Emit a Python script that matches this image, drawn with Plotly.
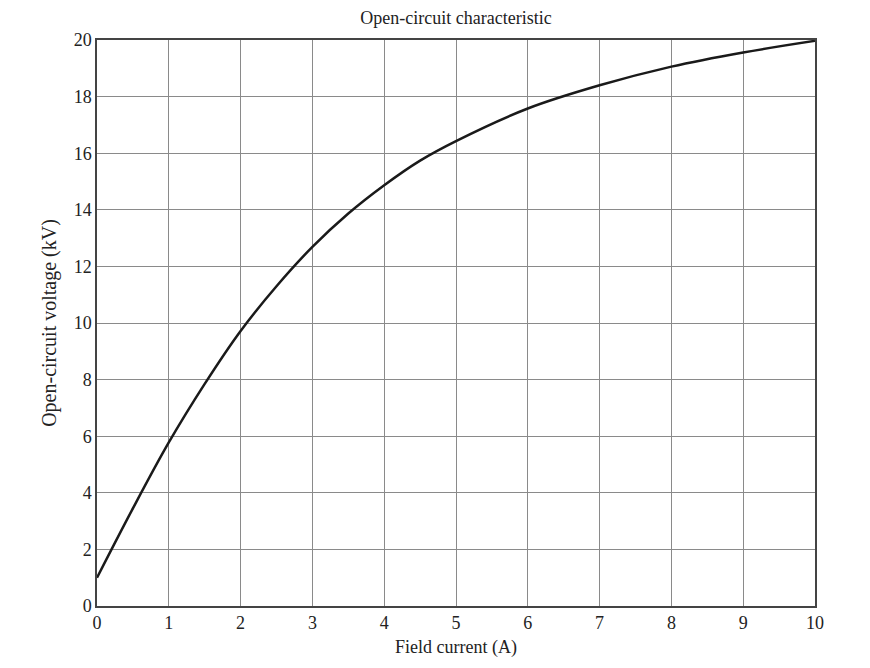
import plotly.graph_objects as go

# open-circuit characteristic
field_current = [0.0, 0.5, 1.0, 1.5, 2.0, 2.5, 3.0, 3.5, 4.0, 4.5, 5.0, 6.0, 7.0, 8.0, 9.0, 10.0]
oc_voltage = [1.0, 3.45, 5.78, 7.85, 9.72, 11.3, 12.69, 13.87, 14.87, 15.74, 16.43, 17.58,
              18.4, 19.06, 19.56, 19.97]

x_ticks = list(range(0, 11))
y_ticks = list(range(0, 21, 2))

FONT = "Liberation Serif, Times New Roman, serif"

fig = go.Figure()
fig.add_scatter(
    x=field_current, y=oc_voltage,
    mode="lines",
    line=dict(color="#1a1a1a", width=2.5, shape="spline", smoothing=1.0),
    showlegend=False,
)

# page body has an 8px margin, so the figure is a little smaller than the window
fig.update_layout(
    width=862, height=660,
    margin=dict(l=89, r=55, t=32, b=62),
    paper_bgcolor="white", plot_bgcolor="white",
    font=dict(family=FONT, size=18, color="#222"),
    title=dict(text="Open-circuit characteristic", x=0.5, xref="paper", xanchor="center",
               y=0.985, yref="container", yanchor="middle", font=dict(size=18)),
)
fig.update_xaxes(
    range=[0, 10], tickvals=x_ticks, ticks="",
    showgrid=True, gridcolor="#8a8a8a", gridwidth=1,
    showline=True, linecolor="#444", linewidth=1.5, mirror=True,
    zeroline=False, tickfont=dict(size=18),
    title=dict(text="Field current (A)", standoff=8, font=dict(size=18)),
)
fig.update_yaxes(
    range=[0, 20], tickvals=y_ticks, ticks="",
    showgrid=True, gridcolor="#8a8a8a", gridwidth=1,
    showline=True, linecolor="#444", linewidth=1.5, mirror=True,
    zeroline=False, tickfont=dict(size=18),
    title=dict(text="Open-circuit voltage (kV)", standoff=12, font=dict(size=20)),
)

fig.write_html("out.html")
